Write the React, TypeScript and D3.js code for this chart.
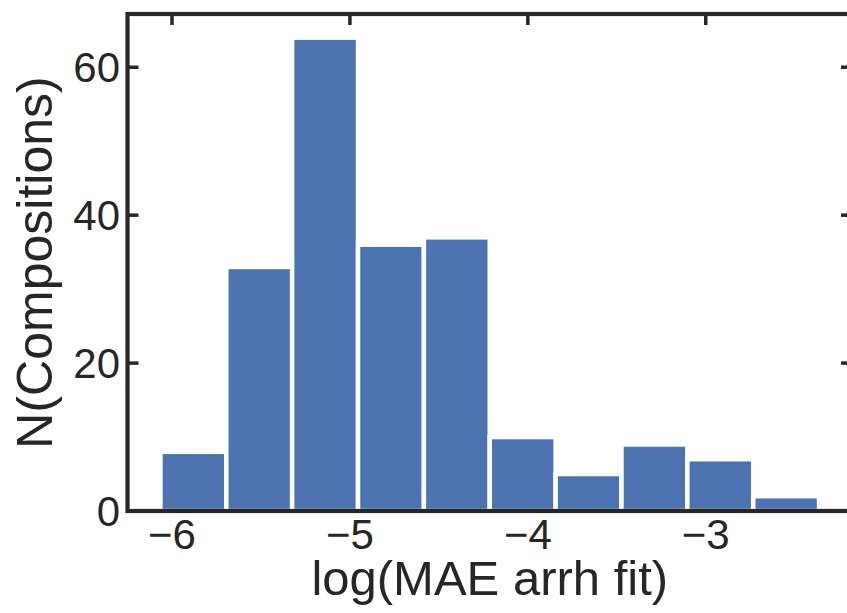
import React from "react";
import * as d3 from "d3";

const counts: number[] = [8, 33, 64, 36, 37, 10, 5, 9, 7, 2];
const binStart = -6.065;
const binWidth = 0.3702;
const xTicks: number[] = [-6, -5, -4, -3];
const yTicks: number[] = [0, 20, 40, 60];
const xLabel = "log(MAE arrh fit)";
const yLabel = "N(Compositions)";

const W = 847;
const H = 613;
const left = 127.5;
const right = 852;
const top = 14;
const bottom = 511;
const ink = "#262626";
const barColor = "#4C72B0";
const font = "'Liberation Sans', Arial, Helvetica, sans-serif";

export default function App() {
  const edges = counts.map((_, i) => binStart + i * binWidth);
  const binEnd = binStart + counts.length * binWidth;
  const pad = (binEnd - binStart) * 0.05;
  const x = d3.scaleLinear().domain([binStart - pad, binEnd + pad]).range([left, right]);
  const yMax = (d3.max(counts) as number) * 1.05;
  const y = d3.scaleLinear().domain([0, yMax]).range([bottom, top]);
  const tickLen = 11;
  const tickW = 3.5;

  return (
    <svg
      width={W}
      height={H}
      style={{ position: "absolute", left: 0, top: 0, background: "#fff" }}
      fontFamily={font}
    >
      {/* ticks (drawn below bars) */}
      {xTicks.map((t) => (
        <g key={"xt" + t}>
          <line x1={x(t)} x2={x(t)} y1={bottom} y2={bottom - tickLen} stroke={ink} strokeWidth={tickW} />
          <line x1={x(t)} x2={x(t)} y1={top} y2={top + tickLen} stroke={ink} strokeWidth={tickW} />
        </g>
      ))}
      {yTicks.map((t) => (
        <g key={"yt" + t}>
          <line x1={left} x2={left + tickLen} y1={y(t)} y2={y(t)} stroke={ink} strokeWidth={tickW} />
          <line x1={right} x2={right - tickLen} y1={y(t)} y2={y(t)} stroke={ink} strokeWidth={tickW} />
        </g>
      ))}
      {/* bars */}
      {counts.map((c, i) => (
        <rect
          key={"b" + i}
          x={x(edges[i])}
          y={y(c)}
          width={x(edges[i] + binWidth) - x(edges[i])}
          height={y(0) - y(c)}
          fill={barColor}
          stroke="#ffffff"
          strokeWidth={4.5}
        />
      ))}
      {/* spines */}
      <rect x={left} y={top} width={right - left} height={bottom - top} fill="none" stroke={ink} strokeWidth={4.2} />
      {/* tick labels */}
      {xTicks.map((t) => (
        <text key={"xl" + t} x={x(t)} y={549} textAnchor="middle" fontSize={42} fill={ink}>
          {"\u2212" + Math.abs(t)}
        </text>
      ))}
      {yTicks.map((t) => (
        <text key={"yl" + t} x={120} y={y(t) + 15} textAnchor="end" fontSize={42} fill={ink}>
          {t}
        </text>
      ))}
      {/* axis labels */}
      <text x={(left + right) / 2} y={595} textAnchor="middle" fontSize={49} fill={ink}>
        {xLabel}
      </text>
      <text
        transform={`translate(52, ${(top + bottom) / 2}) rotate(-90)`}
        textAnchor="middle"
        fontSize={50}
        fill={ink}
      >
        {yLabel}
      </text>
    </svg>
  );
}
